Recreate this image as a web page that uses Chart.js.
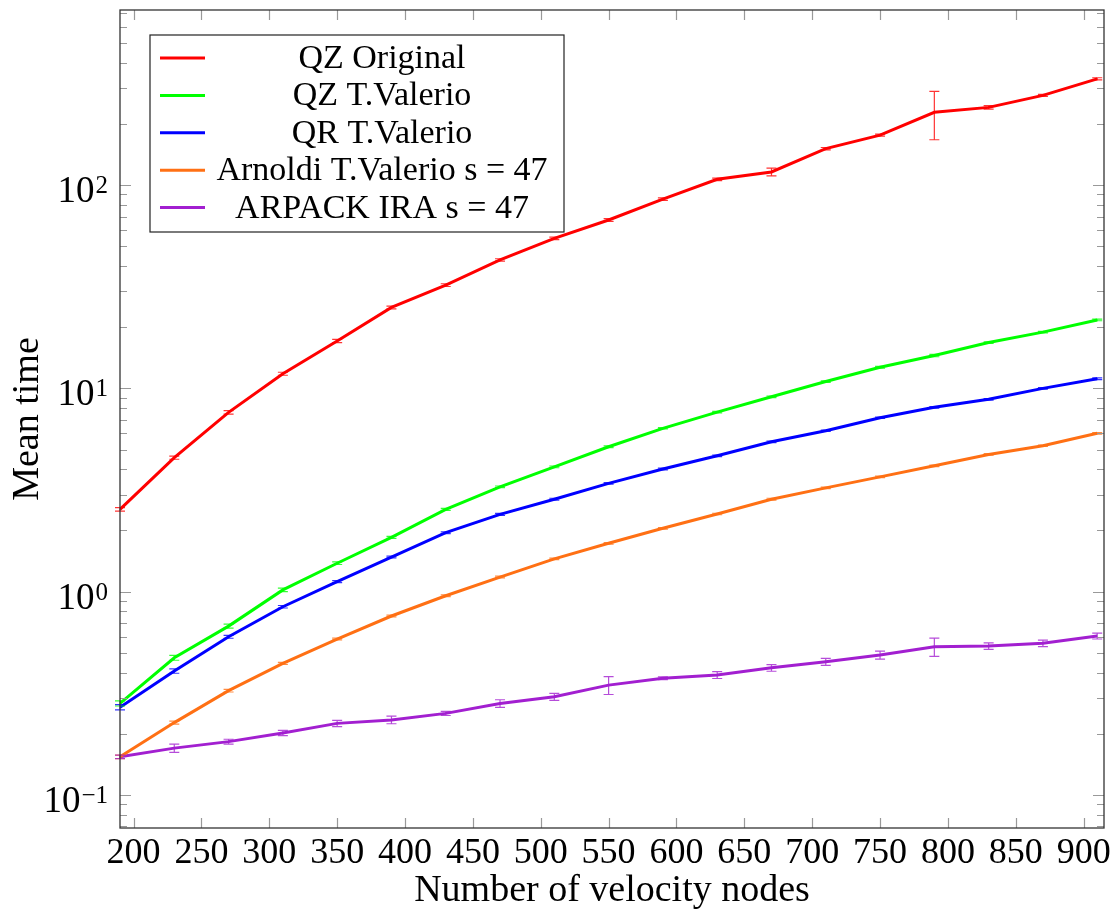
<!DOCTYPE html>
<html>
<head>
<meta charset="utf-8">
<script src="https://cdn.jsdelivr.net/npm/chart.js@4.4.1/dist/chart.umd.min.js"></script>
<style>
  html, body { margin: 0; padding: 0; background: #fff; }
  #wrap { width: 1119px; height: 914px; }
</style>
</head>
<body>
<div id="wrap"><canvas id="timeChart" width="1119" height="914"></canvas></div>
<script>
// velocity nodes (x)
const xNodes = [190, 230, 270, 310, 350, 390, 430, 470, 510, 550, 590, 630, 670, 710, 750, 790, 830, 870, 910];

// mean times
const qzOriginal = [2.54, 4.56, 7.62, 11.8, 17.1, 25.0, 32.2, 42.8, 54.7, 67.3, 85.3, 106.7, 116, 151, 176, 228, 241, 276, 333];
const qzValerio  = [0.282, 0.473, 0.677, 1.02, 1.38, 1.85, 2.54, 3.28, 4.11, 5.16, 6.36, 7.64, 9.09, 10.8, 12.7, 14.5, 16.8, 18.9, 21.7];
const qrValerio  = [0.270, 0.407, 0.600, 0.843, 1.12, 1.48, 1.95, 2.40, 2.85, 3.41, 4.01, 4.66, 5.46, 6.19, 7.17, 8.07, 8.83, 10.0, 11.15];
const arnoldi    = [0.154, 0.227, 0.326, 0.444, 0.585, 0.759, 0.955, 1.18, 1.45, 1.73, 2.05, 2.41, 2.85, 3.24, 3.67, 4.16, 4.73, 5.22, 6.01];
const arpack     = [0.154, 0.170, 0.183, 0.202, 0.225, 0.234, 0.252, 0.282, 0.304, 0.347, 0.375, 0.389, 0.422, 0.452, 0.488, 0.536, 0.540, 0.557, 0.605];

// error bar half widths
const qzOriginalErr = [0.05, 0.08, 0.15, 0.2, 0.3, 0.4, 0.5, 0.6, 0.8, 1.0, 1.2, 1.5, 5, 2, 2, 61, 5, 3, 4];
const qzValerioErr  = [0.008, 0.013, 0.015, 0.02, 0.02, 0.02, 0.03, 0.03, 0.04, 0.05, 0.05, 0.06, 0.08, 0.1, 0.12, 0.2, 0.15, 0.15, 0.2];
const qrValerioErr  = [0.008, 0.01, 0.01, 0.012, 0.012, 0.015, 0.02, 0.025, 0.03, 0.03, 0.04, 0.04, 0.05, 0.05, 0.06, 0.07, 0.07, 0.08, 0.1];
const arnoldiErr    = [0.003, 0.004, 0.005, 0.005, 0.006, 0.008, 0.01, 0.012, 0.012, 0.015, 0.018, 0.02, 0.03, 0.03, 0.03, 0.035, 0.04, 0.04, 0.05];
const arpackErr     = [0.003, 0.008, 0.005, 0.006, 0.008, 0.01, 0.006, 0.012, 0.012, 0.035, 0.006, 0.015, 0.016, 0.018, 0.022, 0.055, 0.02, 0.02, 0.02];

const seriesLabels = ['QZ Original', 'QZ T.Valerio', 'QR T.Valerio', 'Arnoldi T.Valerio s = 47', 'ARPACK IRA s = 47'];
const seriesColors = ['#ff0000', '#00ff00', '#0000ff', '#ff7014', '#a21fd0'];

// axis ticks
const xTicks = [200, 250, 300, 350, 400, 450, 500, 550, 600, 650, 700, 750, 800, 850, 900];
const yMajorTicks = [0.1, 1, 10, 100];
const yTickExponents = ['\u22121', '0', '1', '2'];

const FONT = "'Liberation Serif', 'Times New Roman', serif";

const values = [qzOriginal, qzValerio, qrValerio, arnoldi, arpack];
const errors = [qzOriginalErr, qzValerioErr, qrValerioErr, arnoldiErr, arpackErr];

function pts(arr) {
  return arr.map((v, i) => ({ x: xNodes[i], y: v }));
}

const datasets = values.map((arr, k) => ({
  label: seriesLabels[k],
  data: pts(arr),
  errors: errors[k],
  borderColor: seriesColors[k],
  backgroundColor: seriesColors[k],
  borderWidth: 3,
  pointRadius: 0,
  tension: 0
}));

// error bars drawn through the scales
const errorBars = {
  id: 'errorBars',
  afterDatasetsDraw(chart) {
    const ctx = chart.ctx;
    const xs = chart.scales.x, ys = chart.scales.y;
    ctx.save();
    ctx.lineWidth = 1.2;
    chart.data.datasets.forEach(ds => {
      ctx.strokeStyle = ds.borderColor;
      ctx.globalAlpha = 0.8;
      ds.data.forEach((p, i) => {
        const e = ds.errors[i];
        const px = xs.getPixelForValue(p.x);
        const top = ys.getPixelForValue(p.y + e);
        const bot = ys.getPixelForValue(Math.max(p.y - e, 1e-6));
        ctx.beginPath();
        ctx.moveTo(px, top); ctx.lineTo(px, bot);
        ctx.moveTo(px - 5, top); ctx.lineTo(px + 5, top);
        ctx.moveTo(px - 5, bot); ctx.lineTo(px + 5, bot);
        ctx.stroke();
      });
    });
    ctx.restore();
  }
};

// frame with inward ticks on all four sides, plus 10^k labels
const frameTicks = {
  id: 'frameTicks',
  afterDraw(chart) {
    const ctx = chart.ctx;
    const a = chart.chartArea;
    const xs = chart.scales.x, ys = chart.scales.y;
    ctx.save();
    ctx.strokeStyle = '#999';
    ctx.lineWidth = 1.2;
    ctx.beginPath();
    xTicks.forEach(v => {
      const px = Math.round(xs.getPixelForValue(v)) + 0.5;
      ctx.moveTo(px, a.bottom); ctx.lineTo(px, a.bottom - 10);
      ctx.moveTo(px, a.top); ctx.lineTo(px, a.top + 10);
    });
    const lo = Math.floor(Math.log10(ys.min)), hi = Math.ceil(Math.log10(ys.max));
    for (let d = lo; d <= hi; d++) {
      for (let m = 1; m <= 9; m++) {
        const v = m * Math.pow(10, d);
        if (v < ys.min || v > ys.max) continue;
        const py = Math.round(ys.getPixelForValue(v)) + 0.5;
        const len = m === 1 ? 11 : 7;
        ctx.moveTo(a.left, py); ctx.lineTo(a.left + len, py);
        ctx.moveTo(a.right, py); ctx.lineTo(a.right - len, py);
      }
    }
    ctx.stroke();
    ctx.strokeStyle = '#333';
    ctx.lineWidth = 1.3;
    ctx.strokeRect(a.left, a.top, a.right - a.left, a.bottom - a.top);

    // y tick labels: "10" with raised exponent
    ctx.fillStyle = '#000';
    ctx.textBaseline = 'alphabetic';
    yMajorTicks.forEach((v, i) => {
      const py = ys.getPixelForValue(v);
      const right = a.left - 12;
      ctx.font = '25px ' + FONT;
      ctx.textAlign = 'right';
      const ew = ctx.measureText(yTickExponents[i]).width;
      ctx.fillText(yTickExponents[i], right, py + 8);
      ctx.font = '37px ' + FONT;
      ctx.fillText('10', right - ew - 1, py + 17);
    });
    ctx.restore();
  }
};

// boxed legend in the upper left of the plot area
const boxLegend = {
  id: 'boxLegend',
  afterDraw(chart) {
    const ctx = chart.ctx;
    const a = chart.chartArea;
    const bx = a.left + 30, by = a.top + 25, bw = 414, bh = 197;
    ctx.save();
    ctx.fillStyle = '#fff';
    ctx.fillRect(bx, by, bw, bh);
    ctx.strokeStyle = '#222';
    ctx.lineWidth = 1.2;
    ctx.strokeRect(bx, by, bw, bh);
    ctx.font = '34px ' + FONT;
    ctx.textAlign = 'center';
    ctx.textBaseline = 'middle';
    chart.data.datasets.forEach((ds, i) => {
      const y = by + 23 + i * 37.4;
      ctx.strokeStyle = ds.borderColor;
      ctx.lineWidth = 3;
      ctx.beginPath();
      ctx.moveTo(bx + 10, y); ctx.lineTo(bx + 55, y);
      ctx.stroke();
      ctx.fillStyle = '#000';
      ctx.fillText(ds.label, bx + 232, y + 1);
    });
    ctx.restore();
  }
};

new Chart(document.getElementById('timeChart'), {
  type: 'line',
  data: { datasets: datasets },
  options: {
    responsive: false,
    animation: false,
    layout: { padding: { top: 10, right: 15, left: 0, bottom: 0 } },
    plugins: { legend: { display: false }, tooltip: { enabled: false } },
    scales: {
      x: {
        type: 'linear',
        min: 190,
        max: 915,
        grid: { display: false, drawTicks: false, tickLength: 0 },
        border: { display: false },
        afterBuildTicks: s => { s.ticks = xTicks.map(v => ({ value: v })); },
        afterFit: s => { s.height = 86; s.paddingLeft = 0; s.paddingRight = 0; },
        ticks: {
          autoSkip: false,
          maxRotation: 0,
          padding: 4,
          color: '#000',
          font: { family: FONT, size: 36 }
        },
        title: {
          display: true,
          text: 'Number of velocity nodes',
          color: '#000',
          padding: 0,
          font: { family: FONT, size: 38 }
        }
      },
      y: {
        type: 'logarithmic',
        min: 0.0688,
        max: 726,
        grid: { display: false, drawTicks: false, tickLength: 0 },
        border: { display: false },
        afterBuildTicks: s => { s.ticks = yMajorTicks.map(v => ({ value: v })); },
        afterFit: s => { s.width = 120; s.paddingTop = 0; s.paddingBottom = 0; },
        ticks: {
          autoSkip: false,
          padding: 12,
          color: '#000',
          font: { family: FONT, size: 36 },
          callback: () => ''
        },
        title: {
          display: true,
          text: 'Mean time',
          color: '#000',
          padding: 5,
          font: { family: FONT, size: 38 }
        }
      }
    }
  },
  plugins: [errorBars, frameTicks, boxLegend]
});
</script>
</body>
</html>
